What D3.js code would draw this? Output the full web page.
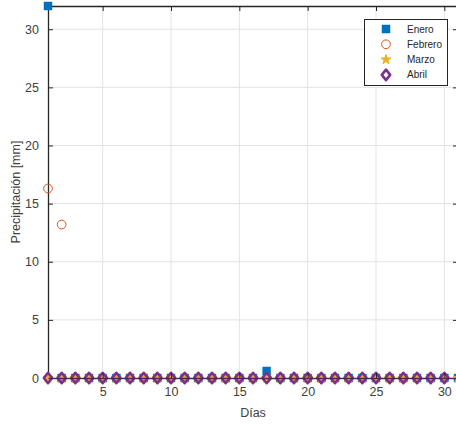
<!DOCTYPE html>
<html>
<head>
<meta charset="utf-8">
<script src="https://cdn.jsdelivr.net/npm/d3@7"></script>
<style>
  body { margin: 0; background: #fff; }
  text { font-family: "Liberation Sans", Arial, Helvetica, sans-serif; }
</style>
</head>
<body>
<div id="chart"></div>
<script>
// Data (precipitation per day, mm)
const days = [1, 2, 3, 4, 5, 6, 7, 8, 9, 10, 11, 12, 13, 14, 15, 16, 17, 18, 19, 20, 21, 22, 23, 24, 25, 26, 27, 28, 29, 30, 31];
const enero = [32, 0, 0, 0, 0, 0, 0, 0, 0, 0, 0, 0, 0, 0, 0, 0, 0.6, 0, 0, 0, 0, 0, 0, 0, 0, 0, 0, 0, 0, 0, 0];
const febrero = [16.3, 13.2, 0, 0, 0, 0, 0, 0, 0, 0, 0, 0, 0, 0, 0, 0, 0, 0, 0, 0, 0, 0, 0, 0, 0, 0, 0, 0];
const marzo = [0, 0, 0, 0, 0, 0, 0, 0, 0, 0, 0, 0, 0, 0, 0, 0, 0, 0, 0, 0, 0, 0, 0, 0, 0, 0, 0, 0, 0, 0, 0];
const abril = [0, 0, 0, 0, 0, 0, 0, 0, 0, 0, 0, 0, 0, 0, 0, 0, 0, 0, 0, 0, 0, 0, 0, 0, 0, 0, 0, 0, 0, 0];
const xTicks = [5, 10, 15, 20, 25, 30];
const yTicks = [0, 5, 10, 15, 20, 25, 30];

const width = 456;
const height = 425;
const margin = { top: 6, right: -2, bottom: 47, left: 48 };

const svg = d3.select("#chart")
    .append("svg")
    .attr("width", width)
    .attr("height", height);

const x = d3.scaleLinear()
    .domain([1, 31])
    .range([margin.left, width - margin.right]);
const y = d3.scaleLinear()
    .domain([0, 32])
    .range([height - margin.bottom, margin.top]);

const x0 = x.range()[0], x1 = x.range()[1];
const y0 = y.range()[0], y1 = y.range()[1];
const axisColor = "#262626";

// Grid lines
svg.append("g").selectAll("line")
    .data(xTicks)
    .join("line")
    .attr("x1", d => x(d)).attr("x2", d => x(d))
    .attr("y1", y1).attr("y2", y0)
    .attr("stroke", "#e3e3e3");
svg.append("g").selectAll("line")
    .data(yTicks.filter(d => d > 0))
    .join("line")
    .attr("x1", x0).attr("x2", x1)
    .attr("y1", d => y(d)).attr("y2", d => y(d))
    .attr("stroke", "#e3e3e3");

// Axes (box with inward ticks)
const bottomAxis = d3.axisBottom(x).tickValues(xTicks).tickSizeInner(-5).tickSizeOuter(0).tickPadding(9);
const leftAxis = d3.axisLeft(y).tickValues(yTicks).tickSizeInner(-5).tickSizeOuter(0).tickPadding(9);
const topAxis = d3.axisTop(x).tickValues(xTicks).tickSizeInner(-5).tickSizeOuter(0).tickFormat("");
const rightAxis = d3.axisRight(y).tickValues(yTicks).tickSizeInner(-5).tickSizeOuter(0).tickFormat("");

function styleAxis(g) {
    g.select(".domain").attr("stroke", axisColor).attr("stroke-width", 1.3);
    g.selectAll(".tick line").attr("stroke", axisColor);
    g.selectAll(".tick text")
        .attr("fill", "#404040")
        .style("font-size", "12.5px");
}

svg.append("g").attr("transform", `translate(0,${y1})`).call(topAxis).call(styleAxis);
svg.append("g").attr("transform", `translate(${x1},0)`).call(rightAxis).call(styleAxis);
svg.append("g").attr("transform", `translate(${x0},0)`).call(leftAxis).call(styleAxis);

// Axis labels
svg.append("text")
    .attr("x", (x0 + x1) / 2)
    .attr("y", 417)
    .attr("text-anchor", "middle")
    .attr("fill", "#404040")
    .style("font-size", "12.5px")
    .text("Días");

svg.append("text")
    .attr("transform", `translate(20,${(y0 + y1) / 2}) rotate(-90)`)
    .attr("text-anchor", "middle")
    .attr("fill", "#404040")
    .style("font-size", "12.5px")
    .text("Precipitación [mm]");

// MATLAB-like fat diamond
const fatDiamond = {
    draw(context, size) {
        const h = Math.sqrt(size) * 0.77, w = h * 0.8;
        context.moveTo(0, -h);
        context.lineTo(w, 0);
        context.lineTo(0, h);
        context.lineTo(-w, 0);
        context.closePath();
    }
};

// Series definitions
const series = [
    { name: "Enero", values: enero, symbol: d3.symbolSquare, size: 64, fill: "#0072BD", stroke: "#0072BD", sw: 0.5 },
    { name: "Febrero", values: febrero, symbol: d3.symbolCircle, size: 60, fill: "none", stroke: "#D95319", sw: 1 },
    { name: "Marzo", values: marzo, symbol: d3.symbolStar, size: 30, fill: "#EDB120", stroke: "#EDB120", sw: 1 },
    { name: "Abril", values: abril, symbol: fatDiamond, size: 46, fill: "none", stroke: "#7E2F8E", sw: 2.6 }
];

const plot = svg.append("g");
series.forEach(s => {
    const pts = s.values.map((v, i) => ({ day: days[i], value: v }));
    plot.append("g").selectAll("path")
        .data(pts)
        .join("path")
        .attr("transform", d => `translate(${x(d.day)},${y(d.value)})`)
        .attr("d", d3.symbol().type(s.symbol).size(s.size))
        .attr("fill", s.fill)
        .attr("stroke", s.stroke)
        .attr("stroke-width", s.sw)
        .attr("stroke-linejoin", "round");
});

// Bottom axis drawn over the markers' baseline
svg.append("g").attr("transform", `translate(0,${y0})`).call(bottomAxis).call(styleAxis)
    .select(".domain").attr("stroke", "#4a2a55");

// Legend
const legend = svg.append("g");
legend.append("rect")
    .attr("x", 364.5).attr("y", 19.5)
    .attr("width", 83).attr("height", 66)
    .attr("fill", "#fff")
    .attr("stroke", "#262626")
    .attr("stroke-width", 1);

series.forEach((s, i) => {
    const ly = 29 + i * 15.3;
    legend.append("path")
        .attr("transform", `translate(386,${ly})`)
        .attr("d", d3.symbol().type(s.symbol).size(s.size))
        .attr("fill", s.fill)
        .attr("stroke", s.stroke)
        .attr("stroke-width", s.sw)
        .attr("stroke-linejoin", "round");
    legend.append("text")
        .attr("x", 407)
        .attr("y", ly + 3.5)
        .attr("fill", "#262626")
        .style("font-size", "10px")
        .text(s.name);
});
</script>
</body>
</html>
